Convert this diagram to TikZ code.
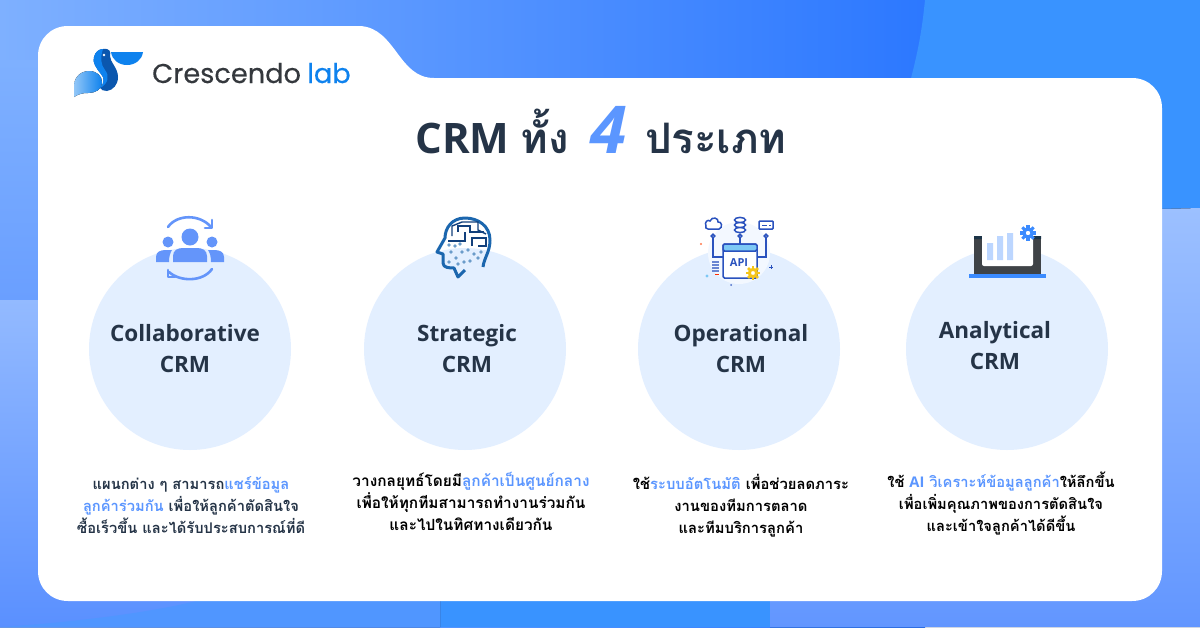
\documentclass[tikz,border=0pt]{standalone}
\usepackage{fontspec}
\usepackage{xcolor}
\setmainfont{Open Sans}
\newfontfamily\thaifont[Script=Thai]{Loma}
\newfontfamily\logofont[FakeBold=0.25]{Poppins}
\usepackage{tikz}
\usetikzlibrary{positioning,calc}

\definecolor{inkdark}{HTML}{253447}
\definecolor{logoink}{HTML}{34383D}
\definecolor{accentblue}{HTML}{5B96FF}
\definecolor{softcircle}{HTML}{E3EFFF}
\definecolor{iconblue}{HTML}{6495FA}
\definecolor{apiblue}{HTML}{2A52BE}
\definecolor{apisky}{HTML}{7CC8F5}
\definecolor{logoblue}{HTML}{0E82EE}
\definecolor{logodark}{HTML}{0B57AE}
\definecolor{headblue}{HTML}{1B66AE}
\definecolor{headnavy}{HTML}{12407C}
\definecolor{gearyellow}{HTML}{F5C518}
\definecolor{gearblue}{HTML}{3B8BFF}
\definecolor{laptopgrey}{HTML}{3F4347}
\definecolor{laptopnavy}{HTML}{1C3448}
\definecolor{barblue}{HTML}{BCD6FF}
\definecolor{bgleft}{HTML}{7EB0FF}
\definecolor{bgleftlow}{HTML}{6A9FFF}
\definecolor{bgdeep}{HTML}{2C78FF}
\definecolor{bgblob}{HTML}{3993FF}
\definecolor{bgpaletop}{HTML}{9CC0FF}
\definecolor{bgpalebottom}{HTML}{6296FF}
\definecolor{bgsidetop}{HTML}{93BAFF}
\definecolor{bgsidebottom}{HTML}{5A90FF}
\definecolor{bgstrip}{HTML}{5096FF}

\newcommand{\bluetext}[1]{\textcolor{accentblue}{#1}}
\newcommand{\gearmark}[3]{%
    \foreach \toothangle in {0,45,...,315}
        \draw[#3, line width=#2*0.38pt] (#1) ++(\toothangle:#2*0.6) -- ++(\toothangle:#2*0.4);
    \draw[#3, line width=#2*0.42pt] (#1) circle (#2*0.52);
}

\begin{document}
\begin{tikzpicture}[x=1pt, y=-1pt, node distance=25pt,
    bubble/.style={circle, fill=softcircle, minimum size=202pt, inner sep=0pt},
    heading/.style={align=center, text=inkdark, inner sep=0pt, font=\fontsize{22.5}{31}\selectfont\bfseries},
    bodytext/.style={align=center, inner sep=0pt, font=\fontsize{#1}{22}\selectfont\thaifont\bfseries},
    peopleline/.style={draw=iconblue, line width=2.6pt, line cap=round, line join=round},
    apiline/.style={draw=apiblue, line width=1.5pt},
    circuit/.style={draw=headnavy, line width=1.4pt}]
    \useasboundingbox (0,0) rectangle (1200,627);

    % background
    \fill[left color=bgleft, right color=bgdeep] (0,0) rectangle (925,627);
    \fill[top color=bgleft, bottom color=bgleftlow] (0,60) rectangle (38,300);
    \fill[bgblob] (925,0) .. controls (922,30) and (918,55) .. (905,100) -- (905,400) -- (770,400) -- (770,627) -- (440,627) -- (440,400) -- (905,400) -- (1200,400) -- (1200,0) -- cycle;
    \fill[top color=bgpaletop, bottom color=bgpalebottom] (770,300) -- (1162,209) -- (1200,208) -- (1200,627) -- (770,627) -- cycle;
    \fill[top color=bgsidetop, bottom color=bgsidebottom] (0,300) .. controls (100,300) and (300,305) .. (440,320) -- (440,627) -- (0,627) -- cycle;
    \fill[bgstrip] (0,627) .. controls (80,622) and (170,610) .. (210,597) -- (440,597) -- (440,627) -- cycle;

    % card
    \fill[white] (68,26) -- (360,26) .. controls (396,28) and (398,78) .. (434,78) -- (1132,78) .. controls (1149,78) and (1162,91) .. (1162,108) -- (1162,571) .. controls (1162,588) and (1149,601) .. (1132,601) -- (68,601) .. controls (51,601) and (38,588) .. (38,571) -- (38,56) .. controls (38,39) and (51,26) .. (68,26) -- cycle;

    % logo
    \fill[logoblue] (111,52) -- (143,52) .. controls (142,60) and (135,65) .. (127,65) .. controls (119,65) and (112,60) .. (111,52) -- cycle;
    \fill[left color=logoblue!45, right color=logoblue] (74,97) -- (74,86) .. controls (74,77) and (81,71) .. (89,71) .. controls (97,71) and (102,76) .. (102,82) .. controls (102,90) and (95,93) .. (88,93) .. controls (82,93) and (79,94) .. (74,97) -- cycle;
    \fill[logodark] (103,49) .. controls (110,48) and (111,52) .. (110,56) .. controls (110,62) and (118,68) .. (118,77) .. controls (118,85) and (113,90) .. (107,91) .. controls (104,91) and (101,90) .. (100,88) .. controls (104,84) and (105,78) .. (101,74) .. controls (96,68) and (92,62) .. (94,57) .. controls (95,52) and (99,49) .. (103,49) -- cycle;
    \fill[logoblue] (103,49) .. controls (99,49) and (95,52) .. (94,57) .. controls (92,62) and (96,68) .. (101,74) .. controls (105,78) and (104,84) .. (100,88) .. controls (108,84) and (110,76) .. (105,70) .. controls (101,65) and (100,58) .. (103,49) -- cycle;
    \fill[white] (104,55) circle (1.3);
    \node (brandName) [anchor=base west, inner sep=0pt, text=logoink, font=\fontsize{27.2}{30}\selectfont\logofont] at (152,83) {Crescendo\hspace{-1pt} \textcolor{logoblue}{lab}};

    % title
    \node (mainTitle) [anchor=base, inner sep=0pt, text=inkdark, font=\fontsize{42}{50}\selectfont\bfseries] at (601,153) {CRM {\thaifont ทั้ง}\hspace{22pt}\textcolor{accentblue}{\fontsize{66}{70}\selectfont\itshape 4}\hspace{18pt}{\thaifont ประเภท}};

    % circles and texts
    \node (collabBubble) [bubble] at (190,349) {};
    \node (strategicBubble) [bubble] at (465,349) {};
    \node (operationalBubble) [bubble] at (739,349) {};
    \node (analyticalBubble) [bubble] at (1007,349) {};

    \node (collabName) [heading, xshift=-5pt] at (collabBubble) {Collaborative\\CRM};
    \node (strategicName) [heading, xshift=2pt] at (strategicBubble) {Strategic\\CRM};
    \node (operationalName) [heading, xshift=2pt] at (operationalBubble) {Operational\\CRM};
    \node (analyticalName) [heading, xshift=-12pt, yshift=3pt] at (analyticalBubble) {Analytical\\CRM};

    \node (collabText) [bodytext=14.7, text=inkdark, below=of collabBubble, xshift=1pt, yshift=-1pt] {แผนกต่าง ๆ สามารถ\bluetext{แชร์ข้อมูล}\\\bluetext{ลูกค้าร่วมกัน} เพื่อให้ลูกค้าตัดสินใจ\\ซื้อเร็วขึ้น และได้รับประสบการณ์ที่ดี};
    \node (strategicText) [bodytext=15.4, text=black, below=of strategicBubble, xshift=6pt, yshift=3pt] {วางกลยุทธ์โดยมี\bluetext{ลูกค้าเป็นศูนย์กลาง}\\เพื่อให้ทุกทีมสามารถทำงานร่วมกัน\\และไปในทิศทางเดียวกัน};
    \node (operationalText) [bodytext=14.8, text=black, below=of operationalBubble, xshift=2pt, yshift=1pt] {ใช้\bluetext{ระบบอัตโนมัติ} เพื่อช่วยลดภาระ\\งานของทีมการตลาด\\และทีมบริการลูกค้า};
    \node (analyticalText) [bodytext=14.7, text=black, below=of analyticalBubble, xshift=-6pt, yshift=3pt] {ใช้ \bluetext{{\fontspec{Open Sans}\bfseries AI} วิเคราะห์ข้อมูลลูกค้า}ให้ลึกขึ้น\\เพื่อเพิ่มคุณภาพของการตัดสินใจ\\และเข้าใจลูกค้าได้ดีขึ้น};

    % people icon
    \fill[iconblue] (190,237) circle (8.5) (168,242) circle (5.5) (212,242) circle (5.5);
    \fill[iconblue] (173,262) -- (173,256) .. controls (173,250) and (178,248) .. (183,248) -- (197,248) .. controls (202,248) and (207,250) .. (207,256) -- (207,262) -- cycle;
    \fill[iconblue] (156,262) -- (156,257) .. controls (156,252) and (160,250) .. (166,250) -- (172,250) .. controls (170,253) and (169,257) .. (169,262) -- cycle;
    \fill[iconblue] (224,262) -- (224,257) .. controls (224,252) and (220,250) .. (214,250) -- (208,250) .. controls (210,253) and (211,257) .. (211,262) -- cycle;
    \draw[peopleline] (168,227) .. controls (177,214) and (200,214) .. (211,227);
    \draw[peopleline] (212,220) -- (212,228) -- (205,228);
    \draw[peopleline] (212,269) .. controls (203,282) and (180,282) .. (169,272);
    \draw[peopleline] (175,277) -- (168,277) -- (168,270);

    % head icon
    \draw[headblue, line width=3pt, line join=round] (483,267) .. controls (484,258) and (490,252) .. (490,240) .. controls (490,226) and (478,218) .. (465,218) .. controls (452,218) and (445,228) .. (445,238) -- (437,252) -- (443,254) -- (443,263) .. controls (443,268) and (450,268) .. (454,268) -- (458,277) -- (465,270);
    \draw[circuit] (452,236) -- (452,226) -- (462,222) -- (478,222) -- (478,230) -- (486,234);
    \draw[circuit] (458,232) -- (458,226) -- (470,226) -- (470,232) -- (484,232);
    \draw[circuit] (448,241) -- (465,241) -- (465,232);
    \draw[circuit] (472,246) -- (472,238) -- (486,238) -- (486,246) -- (478,246);
    \foreach \dotx/\doty in {449/245,455/246,460/244,451/252,456/258,449/262,462/252,468/250,474/254,470/261,464/262,478/258,481/252,458/264}
        \fill[headblue!65] (\dotx,\doty) circle (1.9);

    % api icon
    \fill[softcircle!45] (739,253) circle (31);
    \draw[apiline] (713,238) -- (713,257) -- (723,257);
    \draw[apiline] (766,238) -- (766,257) -- (757,257);
    \draw[apiline] (740,238) -- (740,244);
    \draw[apiline, fill=white] (713,236) circle (1.8) (740,236) circle (1.8) (766,236) circle (1.8);
    \draw[apiline, fill=white, rounded corners=1.5pt] (723,244) rectangle (757,278);
    \draw[apiline, fill=apisky, rounded corners=1.5pt] (723,244) rectangle (757,251);
    \node (apiLabel) [inner sep=0pt, text=apiblue, font=\fontsize{11}{12}\selectfont\bfseries] at (739,263) {API};
    \draw[apiline, fill=white] (706,226) .. controls (704,222) and (708,219) .. (710,221) .. controls (712,216) and (719,218) .. (718,222) .. controls (722,221) and (723,228) .. (719,229) -- (708,229) .. controls (706,229) and (705,227) .. (706,226) -- cycle;
    \draw[apiline, fill=white] (740,230) ellipse (5.5 and 2.6) (740,225) ellipse (5.5 and 2.6) (740,220) ellipse (5.5 and 2.6);
    \draw[apiline, fill=white, rounded corners=0.8pt] (759,221) rectangle (773,229);
    \draw[apiblue, line width=1pt] (762,225) -- (767,225) (769,225) -- (771,225);
    \foreach \listy in {262,265,268,271}
        \draw[apiblue!70, line width=1.3pt] (712,\listy) -- (719,\listy);
    \draw[red!65!orange, line width=1pt] (715,274) -- (719,274);
    \fill[red!50!orange!70] (701,244) circle (1.2);
    \fill[apisky] (707,276) circle (1.7);
    \fill[apiblue!85] (731,285) circle (1);
    \draw[apiblue, line width=0.8pt] (769,267) -- (773,267) (771,265) -- (771,269);
    \gearmark{753,273}{7}{gearyellow}

    % laptop icon
    \fill[laptopgrey] (974,236) rectangle (1041,275);
    \fill[laptopnavy] (974,236) rectangle (982,239) (1033,236) rectangle (1041,239);
    \fill[white, rounded corners=2pt] (982,232) rectangle (1033,266);
    \fill[gearblue] (969,274) rectangle (1046,278);
    \fill[barblue] (987,243) rectangle (993,260) (997,236) rectangle (1003,260) (1007,233) rectangle (1013,260);
    \gearmark{1028,233}{8}{gearblue}
\end{tikzpicture}
\end{document}
